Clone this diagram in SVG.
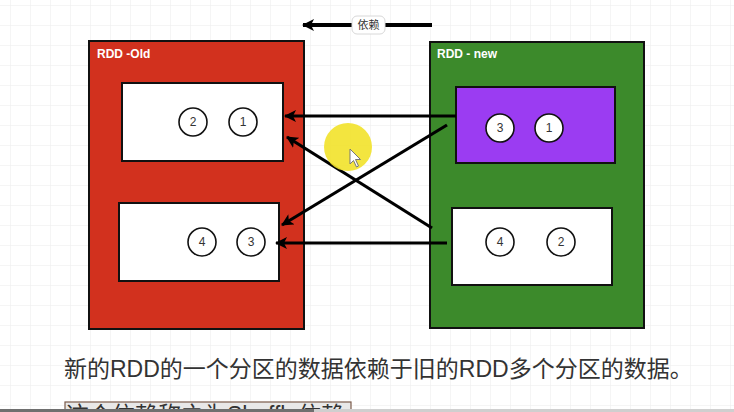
<svg xmlns="http://www.w3.org/2000/svg" width="734" height="412" viewBox="0 0 734 412">
<defs>
<pattern id="grid" x="10" y="5" width="20" height="20" patternUnits="userSpaceOnUse">
<path d="M0 0H20M0 0V20" fill="none" stroke="#ececec" stroke-width="1"/>
</pattern>
<marker id="ah" viewBox="0 0 12 12" refX="11" refY="6" markerWidth="12" markerHeight="12" markerUnits="userSpaceOnUse" orient="auto">
<path d="M0 0L12 6L0 12L3 6Z" fill="#000"/>
</marker>
</defs>
<style>
.box{stroke:#111;stroke-width:2}
.part{fill:#fff;stroke:#111;stroke-width:2}
.c{fill:#fff;stroke:#111;stroke-width:1.6}
.n{font-family:"Liberation Sans",Arial,sans-serif;font-size:12px;fill:#333;text-anchor:middle}
.t{font-family:"Liberation Sans",Arial,sans-serif;font-size:12px;font-weight:bold;fill:#fff}
.conn line{stroke:#000;stroke-width:3.2;marker-end:url(#ah)}
.cjk{font-family:"Liberation Sans","Noto Sans CJK SC",sans-serif;fill:#333}
</style>
<rect width="734" height="412" fill="#fff"/>
<rect width="734" height="412" fill="url(#grid)"/>

<g id="rdd-old">
<rect class="box" x="89" y="41" width="215" height="288" fill="#d2311e"/>
<text class="t" x="97" y="58">RDD -Old</text>
</g>
<g id="old-p1">
<rect class="part" x="122" y="83" width="161" height="78"/>
<circle class="c" cx="193" cy="122" r="14"/><text class="n" x="193" y="126">2</text>
<circle class="c" cx="243" cy="122" r="14"/><text class="n" x="243" y="126">1</text>
</g>
<g id="old-p2">
<rect class="part" x="119" y="203" width="160" height="78"/>
<circle class="c" cx="202" cy="242" r="14"/><text class="n" x="202" y="246">4</text>
<circle class="c" cx="251" cy="242" r="14"/><text class="n" x="251" y="246">3</text>
</g>

<g id="rdd-new">
<rect class="box" x="430" y="42" width="214" height="286" fill="#3c8a2b"/>
<text class="t" x="437" y="58">RDD - new</text>
</g>
<g id="new-p1">
<rect class="part" x="456" y="87" width="159" height="76" fill="#9b3cf2" style="fill:#9b3cf2"/>
<circle class="c" cx="500" cy="128" r="14"/><text class="n" x="500" y="132">3</text>
<circle class="c" cx="549" cy="128" r="14"/><text class="n" x="549" y="132">1</text>
</g>
<g id="new-p2">
<rect class="part" x="452" y="208" width="160" height="77"/>
<circle class="c" cx="500" cy="242" r="14"/><text class="n" x="500" y="246">4</text>
<circle class="c" cx="561" cy="242" r="14"/><text class="n" x="561" y="246">2</text>
</g>

<g id="connectors" class="conn">
<line x1="456" y1="116" x2="285" y2="116"/>
<line x1="447" y1="125" x2="282" y2="225"/>
<line x1="432" y1="228" x2="287" y2="137"/>
<line x1="447" y1="243" x2="276" y2="243"/>
<line x1="432" y1="25" x2="303" y2="25" style="stroke-width:4"/>
</g>
<g id="dep-label">
<rect x="352" y="16" width="33" height="18" rx="5" fill="#fff" stroke="#d8d8d8"/>
<text class="cjk" x="368.5" y="29" font-size="11" text-anchor="middle">依赖</text>
</g>

<g id="cursor">
<circle cx="348" cy="147" r="24" fill="#f2e22a" opacity="0.9"/>
<path d="M350 149L350 164L353.5 160.5L356.5 167L358.5 166L355.5 159.5L360.5 159.5Z" fill="#fff" stroke="#777" stroke-width="1"/>
</g>

<text class="cjk" x="64" y="377" font-size="23">新的RDD的一个分区的数据依赖于旧的RDD多个分区的数据。</text>
<rect x="65" y="402" width="286" height="20" fill="#e8e8e8" stroke="#7a5a4a" stroke-width="1.2"/>
<text class="cjk" x="66" y="423" font-size="23">这个依赖称之为Shuffle依赖</text>
<rect x="0" y="409" width="734" height="3" fill="#cfcfcf"/>
<rect x="0" y="409" width="314" height="3" fill="#6f6f6f"/>
</svg>
